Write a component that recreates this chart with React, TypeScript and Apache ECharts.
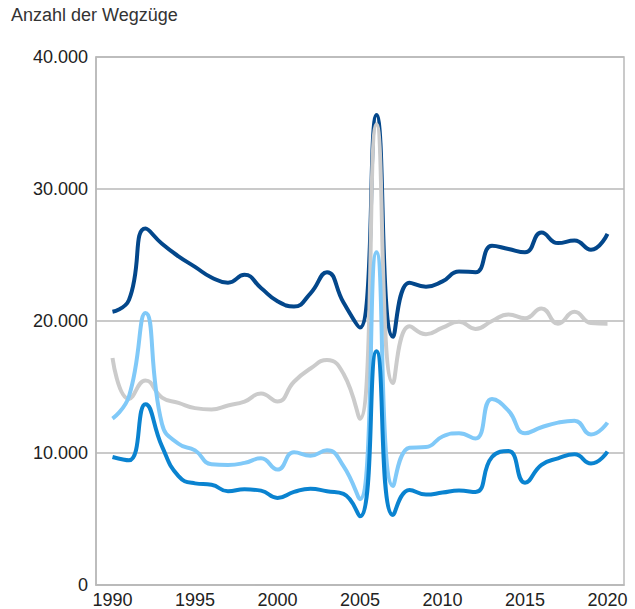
import React, { useEffect, useRef } from "react";
import * as echarts from "echarts";

const years = [
  1990, 1991, 1992, 1993, 1994, 1995, 1996, 1997, 1998, 1999, 2000,
  2001, 2002, 2003, 2004, 2005, 2006, 2007, 2008, 2009, 2010,
  2011, 2012, 2013, 2014, 2015, 2016, 2017, 2018, 2019, 2020,
];

const navySeries = [
  20700, 21600, 27000, 25850, 24900, 24100, 23300, 22900, 23500, 22500, 21500,
  21100, 22100, 23700, 21400, 19500, 35600, 18800, 22900, 22600, 23000,
  23750, 23700, 25700, 25450, 25200, 26700, 25900, 26100, 25400, 26600,
];

const graySeries = [
  17200, 14100, 15500, 14200, 13800, 13400, 13300, 13600, 13900, 14500, 13900,
  15400, 16400, 17050, 16000, 12600, 34900, 15300, 19600, 19000, 19500,
  19950, 19400, 20000, 20500, 20200, 20950, 19800, 20700, 19850, 19800,
];

const lightBlueSeries = [
  12600, 14300, 20600, 12200, 10700, 10200, 9150, 9100, 9250, 9600, 8750,
  10050, 9800, 10200, 9000, 6500, 25200, 7500, 10400, 10450, 11250,
  11500, 11100, 14100, 13200, 11500, 11950, 12300, 12450, 11400, 12300,
];

const mediumBlueSeries = [
  9700, 9450, 13700, 10500, 8250, 7700, 7600, 7100, 7250, 7150, 6600,
  7050, 7300, 7100, 6900, 5200, 17700, 5300, 7200, 6850, 7000,
  7150, 7050, 9700, 10150, 7750, 9100, 9600, 9900, 9200, 10100,
];

const yTicks = [0, 10000, 20000, 30000, 40000];

const titleText = "Anzahl der Wegzüge";

const fontFamily = "'Liberation Sans', Arial, Helvetica, sans-serif";

export default function App() {
  const ref = useRef<HTMLDivElement>(null);

  useEffect(() => {
    if (!ref.current) return;
    const chart = echarts.init(ref.current, undefined, { renderer: "svg" });
    const mk = (arr: number[]) => years.map((y, i) => [y, arr[i]]);
    const seriesDefs = [
      { name: "navy", data: navySeries, color: "#03478b" },
      { name: "gray", data: graySeries, color: "#cbcbcb" },
      { name: "lightblue", data: lightBlueSeries, color: "#80c9f8" },
      { name: "mediumblue", data: mediumBlueSeries, color: "#0a83d0" },
    ];
    chart.setOption({
      animation: false,
      backgroundColor: "#ffffff",
      textStyle: { fontFamily },
      title: {
        text: titleText,
        left: 11,
        top: 6,
        padding: 0,
        textStyle: {
          fontFamily,
          fontSize: 18,
          fontWeight: "normal",
          color: "#333333",
        },
      },
      grid: {
        left: 96,
        right: 11,
        top: 57,
        bottom: 24,
        show: true,
        borderColor: "#b9b9b9",
        borderWidth: 1.5,
      },
      xAxis: {
        type: "value",
        min: 1989,
        max: 2021,
        interval: 1,
        axisLine: { show: true, lineStyle: { color: "#b9b9b9", width: 1.5 } },
        axisTick: { show: false },
        splitLine: { show: false },
        axisLabel: {
          margin: 6,
          fontSize: 18,
          color: "#222222",
          fontFamily,
          formatter: (v: number) => (v % 5 === 0 ? String(v) : ""),
        },
      },
      yAxis: {
        type: "value",
        min: yTicks[0],
        max: yTicks[yTicks.length - 1],
        interval: 10000,
        axisLine: { show: true, lineStyle: { color: "#b9b9b9", width: 1.5 } },
        axisTick: { show: false },
        splitLine: { show: true, lineStyle: { color: "#b9b9b9", width: 1.5 } },
        axisLabel: {
          margin: 8,
          fontSize: 18,
          color: "#222222",
          fontFamily,
          formatter: (v: number) => (v === 0 ? "0" : `${v / 1000}.000`),
        },
      },
      series: seriesDefs.map((s) => ({
        name: s.name,
        type: "line",
        data: mk(s.data),
        smooth: 0.5,
        symbol: "none",
        lineStyle: { color: s.color, width: 4 },
        itemStyle: { color: s.color },
      })),
    });
    return () => chart.dispose();
  }, []);

  return (
    <div
      ref={ref}
      style={{ position: "absolute", left: 0, top: 0, width: 635, height: 609 }}
    />
  );
}
